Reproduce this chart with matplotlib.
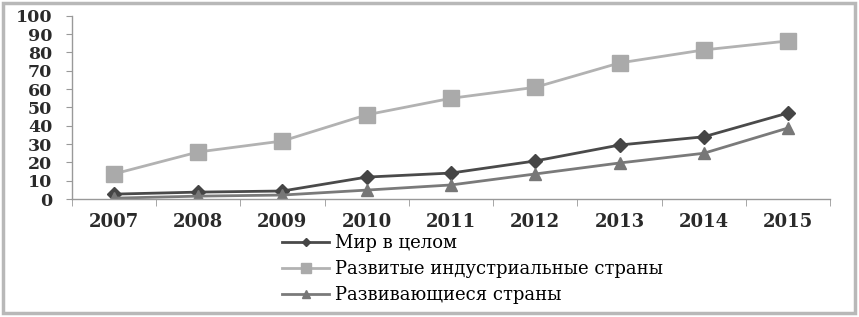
import matplotlib.pyplot as plt
from matplotlib.patches import Rectangle

years = ["2007", "2008", "2009", "2010", "2011", "2012", "2013", "2014", "2015"]
world = [2.7, 3.8, 4.4, 12.0, 14.2, 20.8, 29.5, 34.0, 47.0]
developed = [13.7, 25.7, 31.7, 46.0, 55.0, 61.0, 74.3, 81.4, 86.3]
developing = [0.5, 1.6, 2.2, 4.9, 7.7, 13.7, 19.7, 25.0, 38.8]
labels = ["Мир в целом", "Развитые индустриальные страны", "Развивающиеся страны"]
yticks = list(range(0, 101, 10))

font = "DejaVu Serif"

fig = plt.figure(figsize=(8.59, 3.17), dpi=100)
fig.patches.append(Rectangle((0.003, 0.012), 0.992, 0.98, transform=fig.transFigure,
                             fill=False, edgecolor="#b8b8b8", linewidth=2.5))

ax = fig.add_axes([0.0835, 0.372, 0.883, 0.578])
x = [i + 0.5 for i in range(len(years))]

ax.plot(x, world, color="#4a4a4a", lw=2, marker="D", ms=7, mfc="#454545", mec="#454545", label=labels[0])
ax.plot(x, developed, color="#b2b2b2", lw=2, marker="s", ms=11, mfc="#aaaaaa", mec="#aaaaaa", label=labels[1])
ax.plot(x, developing, color="#7a7a7a", lw=2, marker="^", ms=9, mfc="#777777", mec="#777777", label=labels[2])

ax.set_xlim(0, len(years))
ax.set_ylim(0, 100)
ax.set_xticks(x)
ax.set_xticklabels(years, fontfamily=font, fontsize=13, fontweight="bold", color="#2a2a2a")
ax.set_xticks(range(len(years) + 1), minor=True)
ax.tick_params(axis="x", which="major", length=0, pad=10)
ax.tick_params(axis="x", which="minor", length=5, color="#999999", direction="out")
ax.set_yticks(yticks)
ax.set_yticklabels([str(v) for v in yticks], fontfamily=font, fontsize=12.5, fontweight="bold", color="#2a2a2a")
ax.tick_params(axis="y", length=4, color="#999999", direction="out", pad=10)

for side in ["top", "right"]:
    ax.spines[side].set_visible(False)
for side in ["left", "bottom"]:
    ax.spines[side].set_color("#999999")
    ax.spines[side].set_linewidth(1)

fig.legend(loc="upper left", bbox_to_anchor=(0.318, 0.29), frameon=False,
           prop={"family": font, "size": 13},
           handlelength=2.6, handletextpad=0.3, labelspacing=0.45, borderpad=0, markerscale=0.6)

fig.savefig("out.png", dpi=100)
